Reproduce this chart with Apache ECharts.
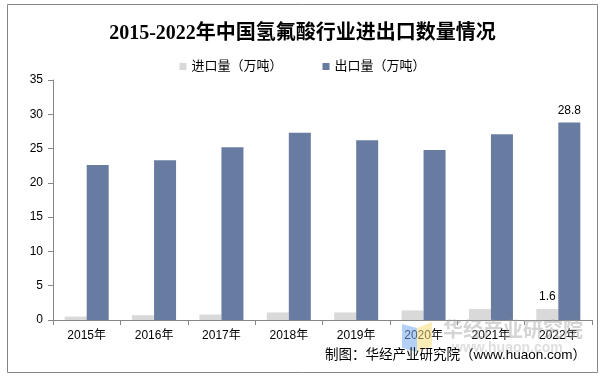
<!DOCTYPE html>
<html>
<head>
<meta charset="utf-8">
<script src="https://cdn.jsdelivr.net/npm/echarts@6/dist/echarts.min.js"></script>
<style>
  html, body { margin: 0; padding: 0; background: #fff; }
  #main { width: 605px; height: 378px; }
</style>
</head>
<body>
<div id="main"></div>
<script>
// 数据
var years = ['2015年', '2016年', '2017年', '2018年', '2019年', '2020年', '2021年', '2022年'];
var importVol = [0.5, 0.7, 0.8, 1.1, 1.1, 1.4, 1.6, 1.6];
var exportVol = [22.6, 23.3, 25.2, 27.3, 26.2, 24.8, 27.1, 28.8];
var yTicks = [0, 5, 10, 15, 20, 25, 30, 35];

var sansFont = '"Liberation Sans", "Noto Sans CJK SC", sans-serif';

// 只给最后一年显示数值
function lastLabel(arr) {
    return arr.map(function (v, i) {
        if (i === arr.length - 1) {
            return { value: v, label: { show: true, position: 'top', distance: 6, color: '#000', fontSize: 12, fontFamily: sansFont } };
        }
        return v;
    });
}

var myChart = echarts.init(document.getElementById('main'));
var option = {
    backgroundColor: '#fff',
    animation: false,
    title: {
        text: '2015-2022年中国氢氟酸行业进出口数量情况',
        left: 'center',
        top: 19,
        textStyle: {
            fontFamily: '"Liberation Serif", "Noto Sans CJK SC", serif',
            fontWeight: 'bold',
            fontSize: 20,
            color: '#000'
        }
    },
    legend: {
        top: 55,
        left: 'center',
        itemWidth: 7,
        itemHeight: 7,
        itemGap: 40,
        icon: 'rect',
        textStyle: { fontFamily: sansFont, fontSize: 13, color: '#000' },
        data: ['进口量（万吨）', '出口量（万吨）']
    },
    grid: { left: 53, right: 13, top: 80, bottom: 58 },
    xAxis: {
        type: 'category',
        data: years,
        axisLine: { lineStyle: { color: '#868686' } },
        axisTick: { show: true, alignWithLabel: false, length: 5, lineStyle: { color: '#868686' } },
        axisLabel: { fontFamily: sansFont, fontSize: 12, color: '#000', margin: 10 }
    },
    yAxis: {
        type: 'value',
        min: yTicks[0],
        max: yTicks[yTicks.length - 1],
        interval: 5,
        axisLine: { show: true, lineStyle: { color: '#868686' } },
        axisTick: { show: true, length: 5, lineStyle: { color: '#868686' } },
        splitLine: { show: false },
        axisLabel: { fontFamily: sansFont, fontSize: 12, color: '#000', margin: 10 }
    },
    series: [
        {
            name: '进口量（万吨）',
            type: 'bar',
            barWidth: 22,
            barGap: '0%',
            itemStyle: { color: '#D9D9D9' },
            data: lastLabel(importVol)
        },
        {
            name: '出口量（万吨）',
            type: 'bar',
            barWidth: 22,
            barGap: '0%',
            itemStyle: { color: '#687CA1' },
            data: lastLabel(exportVol)
        }
    ],
    graphic: [
        // 外框
        {
            type: 'rect',
            shape: { x: 7.5, y: 4.5, width: 590, height: 368 },
            style: { fill: 'none', stroke: '#868686', lineWidth: 1 },
            z: 0
        },
        // 水印 logo
        {
            type: 'polygon',
            shape: { points: [[402, 324], [417, 328], [417, 352], [402, 348]] },
            style: { fill: 'rgba(120,170,240,0.55)' },
            z: 100
        },
        {
            type: 'polygon',
            shape: { points: [[417, 328], [432, 322], [432, 346], [417, 352]] },
            style: { fill: 'rgba(250,220,120,0.55)' },
            z: 100
        },
        {
            type: 'text',
            left: 443,
            top: 319,
            style: {
                text: '华经产业研究院',
                fill: 'rgba(160,160,160,0.45)',
                font: 'bold 20px "Noto Sans CJK SC", sans-serif'
            },
            z: 100
        },
        {
            type: 'text',
            left: 452,
            top: 341,
            style: {
                text: 'www.huaon.com',
                fill: 'rgba(160,160,160,0.35)',
                font: 'bold 14px ' + sansFont
            },
            z: 100
        },
        {
            type: 'text',
            right: 19,
            top: 349,
            style: {
                text: '制图：华经产业研究院（www.huaon.com）',
                fill: '#000',
                font: '13.5px ' + sansFont
            },
            z: 101
        }
    ]
};
myChart.setOption(option);
</script>
</body>
</html>
